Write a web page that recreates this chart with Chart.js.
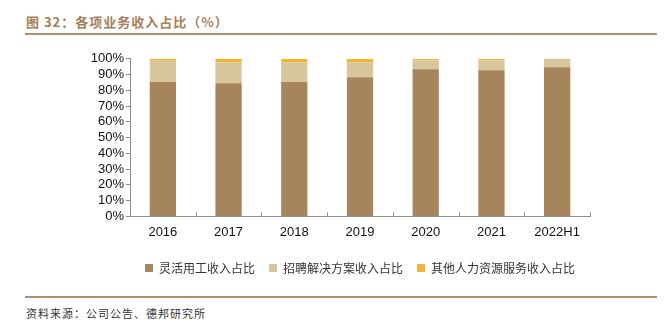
<!DOCTYPE html>
<html>
<head>
<meta charset="utf-8">
<script src="https://cdn.jsdelivr.net/npm/chart.js@4/dist/chart.umd.min.js"></script>
<style>
  body { margin: 0; background: #fff; width: 664px; height: 324px; position: relative; overflow: hidden; }
  .title { position: absolute; left: 26px; top: 12px; font: bold 13px "Noto Sans CJK SC", sans-serif; color: #a67e5a; letter-spacing: 1px; }
  .rule { position: absolute; left: 25px; width: 632px; height: 2px; background: #b08c68; }
  .source { position: absolute; left: 26px; top: 305px; font: 11px "Noto Sans CJK SC", sans-serif; color: #333; letter-spacing: 1px; }
  #wrap { position: absolute; left: 60px; top: 49px; width: 600px; height: 235px; }
</style>
</head>
<body>
<div class="title">图 32：各项业务收入占比（%）</div>
<div class="rule" style="top:33px"></div>
<div class="rule" style="top:296px"></div>
<div class="source">资料来源：公司公告、德邦研究所</div>
<div id="wrap"><canvas id="c"></canvas></div>
<script>
const categories = ['2016', '2017', '2018', '2019', '2020', '2021', '2022H1'];
const flexibleShare = [85.2, 84.5, 85.2, 88.3, 93.4, 92.8, 94.7];
const recruitShare = [13.6, 13.2, 12.5, 9.4, 5.7, 6.3, 5.1];
const otherShare = [1.2, 2.3, 2.3, 2.3, 0.9, 0.9, 0.2];
const tickLabels = ['0%', '10%', '20%', '30%', '40%', '50%', '60%', '70%', '80%', '90%', '100%'];

// small upward ticks between categories on the x axis
const xTicks = {
  id: 'xTicks',
  afterDraw(chart) {
    const x = chart.scales.x;
    const ctx = chart.ctx;
    const bottom = chart.chartArea.bottom;
    ctx.save();
    ctx.strokeStyle = '#8c8c8c';
    ctx.lineWidth = 1;
    for (let i = 0; i <= categories.length; i++) {
      const px = Math.round(x.getPixelForValue(i - 0.5)) + 0.5;
      ctx.beginPath();
      ctx.moveTo(px, bottom);
      ctx.lineTo(px, bottom - 4);
      ctx.stroke();
    }
    ctx.restore();
  }
};

// centre the legend under the plot area instead of the whole canvas
const legendShift = {
  id: 'legendShift',
  afterLayout(chart) {
    const lg = chart.legend;
    const dx = (chart.chartArea.left + chart.chartArea.right) / 2 - (lg.left + lg.right) / 2;
    lg.left += dx;
    lg.right += dx;
  }
};

new Chart(document.getElementById('c'), {
  type: 'bar',
  data: {
    labels: categories,
    datasets: [
      { label: '灵活用工收入占比', data: flexibleShare, backgroundColor: '#a6845c' },
      { label: '招聘解决方案收入占比', data: recruitShare, backgroundColor: '#d7c69c' },
      { label: '其他人力资源服务收入占比', data: otherShare, backgroundColor: '#f5b335' },
    ],
  },
  options: {
    responsive: true,
    maintainAspectRatio: false,
    animation: false,
    layout: { padding: { top: 2, right: 70, left: 0, bottom: 0 } },
    datasets: { bar: { categoryPercentage: 1, barPercentage: 0.4 } },
    plugins: {
      legend: {
        position: 'bottom',
        labels: {
          boxWidth: 8,
          boxHeight: 8,
          padding: 14,
          color: '#333',
          font: { family: '"Noto Sans CJK SC", sans-serif', size: 12 }
        }
      },
      tooltip: { enabled: false }
    },
    scales: {
      x: {
        stacked: true,
        grid: { display: false, drawTicks: false },
        border: { color: '#8c8c8c' },
        ticks: { color: '#111', padding: 8, font: { family: 'Liberation Sans', size: 13 } }
      },
      y: {
        stacked: true,
        min: 0,
        max: 100,
        afterFit(scale) { scale.width = 70; },
        grid: { drawOnChartArea: false, tickLength: 4, color: '#8c8c8c' },
        border: { color: '#8c8c8c' },
        ticks: {
          stepSize: 10,
          autoSkip: false,
          color: '#111',
          padding: 2,
          font: { family: 'Liberation Sans', size: 13 },
          callback: (v) => tickLabels[v / 10]
        }
      }
    }
  },
  plugins: [xTicks, legendShift]
});
</script>
</body>
</html>
